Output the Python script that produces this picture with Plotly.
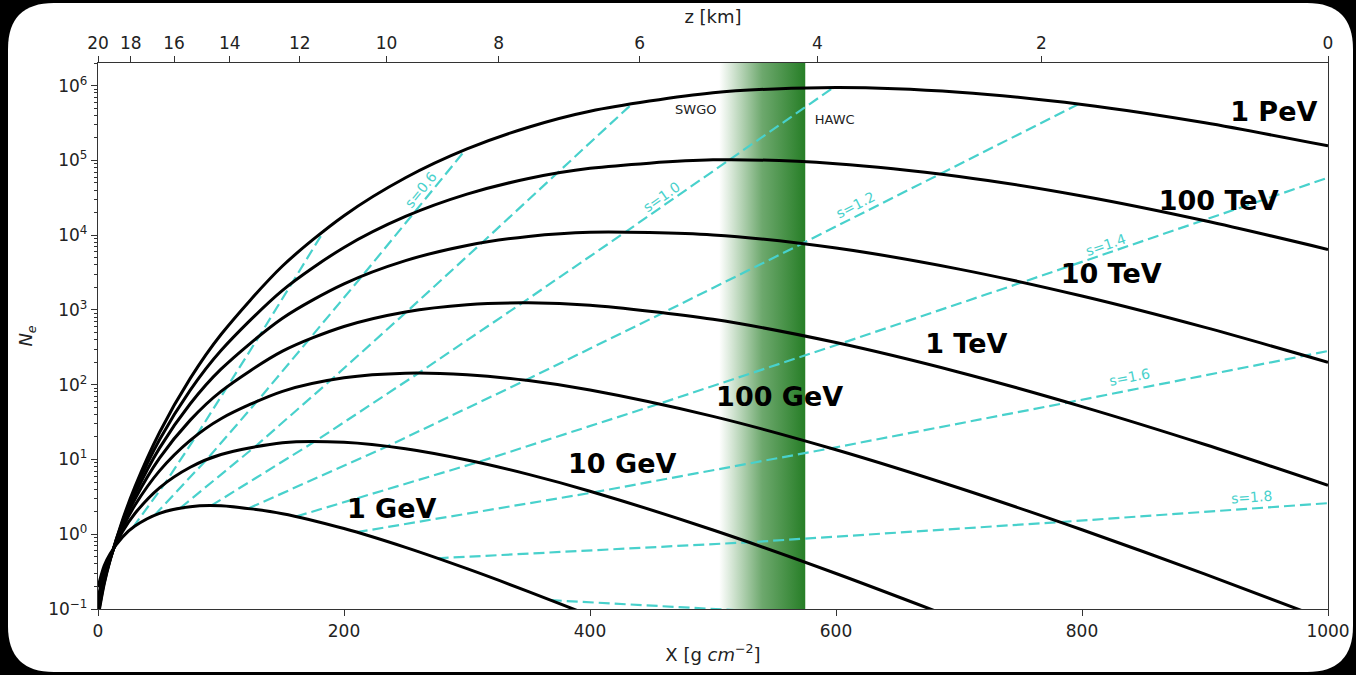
import math
import plotly.graph_objects as go

# ---------------- data ----------------
X_grid = [0, 5, 10, 20, 30, 50, 75, 100, 150, 200, 250, 300, 350, 400, 500, 600, 700, 800, 900, 1000]

energies = ["1 GeV", "10 GeV", "100 GeV", "1 TeV", "10 TeV", "100 TeV", "1 PeV"]

N_1GeV = [0.196, 0.378, 0.553, 0.921, 1.286, 1.906, 2.339, 2.397, 1.886, 1.192, 0.667, 0.346, 0.171,
          0.0816, 0.0173, None, None, None, None, None]
N_10GeV = [0.141, 0.311, 0.516, 1.090, 1.896, 4.181, 7.885, 11.67, 16.79, 16.99, 13.90, 9.829, 6.32,
           3.764, 1.139, 0.2986, 0.0712, None, None, None]
N_100GeV = [0.116, 0.276, 0.497, 1.217, 2.442, 7.044, 18.02, 35.11, 81.70, 123.9, 143.0, 136.1, 113.6,
            85.06, 37.76, 13.50, 4.155, 1.148, 0.2928, 0.0702]
N_1TeV = [0.101, 0.254, 0.483, 1.321, 2.944, 10.40, 33.63, 81.54, 281.3, 601.6, 941.4, 1178, 1247,
          1155, 750.5, 366.7, 147.2, 51.05, 15.86, 4.518]
N_10TeV = [0.0905, 0.238, 0.473, 1.409, 3.420, 14.19, 55.59, 161.4, 776.2, 2236, 4571, 7299, 9643,
           10980, 10110, 6741, 3522, 1538, 584.8, 199.7]
N_100TeV = [0.0828, 0.225, 0.465, 1.489, 3.873, 18.37, 84.72, 286.8, 1834, 6864, 17820, 35430, 57340,
            78520, 101900, 90630, 61210, 33540, 15620, 6460]
N_1PeV = [0.0767, 0.215, 0.457, 1.560, 4.305, 22.96, 121.6, 469.9, 3873, 18260, 58750, 142900, 278600,
          456000, 807000, 948000, 820000, 561000, 319000, 156700]

curves = [N_1GeV, N_10GeV, N_100GeV, N_1TeV, N_10TeV, N_100TeV, N_1PeV]

# energy label positions (X, N)
label_X = [238.8, 426.2, 554.2, 705.9, 823.7, 911.1, 955.9]
label_N = [2.046, 8.204, 63.68, 331.1, 2818, 27160, 409300]

# lines of constant shower age s
s_values = [0.4, 0.6, 0.8, 1.0, 1.2, 1.4, 1.6, 1.8, 2.0]
s_X = [
    [28.3, 54.3, 80.2, 106.2, 132.1, 158.0, 184.0],
    [46.0, 88.2, 130.3, 172.5, 214.7, 256.8, 299.0],
    [66.9, 128.3, 189.6, 250.9, 312.2, 373.6, 434.9],
    [92.0, 176.4, 260.7, 345.0, 429.3, 513.6, 598.0],
    [122.7, 235.2, 347.6, 460.0, 572.5, 684.8, 797.3],
    [161.0, 308.6, 456.2, 603.7, 751.3, 898.9, 1046.4],
    [210.3, 403.1, 595.9, 788.6, 981.3, 1174.0],
    [276.1, 529.1, 782.1, 1035.0],
    [368.1, 705.5],
]
s_N = [
    [1.227, 4.766, 21.09, 98.5, 475, 2335, 11640],
    [1.80, 9.93, 62.45, 414.4, 2840, 19830, 140500],
    [2.243, 15.15, 116.5, 946, 7932, 67720, 587000],
    [2.415, 17.44, 143.5, 1247, 11180, 102100, 947300],
    [2.232, 15.0, 114.9, 928, 7745, 65830, 568000],
    [1.727, 9.18, 55.6, 355.2, 2344, 15760, 107500],
    [1.065, 3.634, 14.12, 57.94, 245.4, 1060],
    [0.4773, 0.7804, 1.455, 2.861],
    [0.1312, 0.0657],
]
# labelled age lines: text, X, N, angle
s_label_text = ["s=0.6", "s=1.0", "s=1.2", "s=1.4", "s=1.6", "s=1.8"]
s_label_X = [262.1, 458.1, 615.8, 819.0, 839.0, 938.2]
s_label_N = [40550, 32360, 25000, 7447, 126.2, 3.126]
s_label_angle = [-51, -35, -27, -19, -11, -4]

# detector altitudes band (X) and labels
band_X = [505, 575]
site_names = ["SWGO", "HAWC"]
site_X = [486.0, 598.9]
site_N = [456000, 345100]

# top axis: altitude z
z_labels = ["20", "18", "16", "14", "12", "10", "8", "6", "4", "2", "0"]
z_tick_X = [0, 26.6, 61.8, 107.1, 164.0, 234.5, 325.8, 440.4, 584.9, 767.0, 1000]

x_ticks = [0, 200, 400, 600, 800, 1000]
y_tick_exp = [-1, 0, 1, 2, 3, 4, 5, 6]
y_log_range = [-1, 6.304]

# ---------------- figure ----------------
FONT = "DejaVu Sans"
CYAN = "#48D1CC"
fig = go.Figure()

y_lo, y_hi = 10 ** y_log_range[0], 10 ** y_log_range[1]
fig.add_trace(go.Scatter(
    x=[band_X[0], band_X[1], band_X[1], band_X[0], band_X[0]],
    y=[y_lo, y_lo, y_hi, y_hi, y_lo],
    mode="lines", line=dict(width=0), fill="toself",
    fillgradient=dict(type="horizontal",
                      colorscale=[[0, "rgba(20,115,20,0)"], [0.15, "rgba(20,115,20,0.18)"],
                                  [0.5, "rgba(20,115,20,0.62)"], [1, "rgba(20,115,20,0.92)"]]),
    hoverinfo="skip", showlegend=False))

for xs, ns in zip(s_X, s_N):
    fig.add_trace(go.Scatter(x=xs, y=ns, mode="lines",
                             line=dict(color=CYAN, width=2.2, dash="11px,5px"),
                             hoverinfo="skip", showlegend=False))

for name, ns in zip(energies, curves):
    fig.add_trace(go.Scatter(x=X_grid, y=ns, mode="lines", name=name,
                             line=dict(color="black", width=3, shape="spline", smoothing=0.8),
                             showlegend=False))

fig.add_trace(go.Scatter(x=label_X, y=label_N, mode="text",
                         text=["<b>%s</b>" % e for e in energies],
                         textfont=dict(family=FONT, size=27, color="black"),
                         hoverinfo="skip", showlegend=False))

fig.add_trace(go.Scatter(x=site_X, y=site_N, mode="text", text=site_names,
                         textfont=dict(family=FONT, size=13, color="#222"),
                         xaxis="x2", yaxis="y", hoverinfo="skip", showlegend=False))

annotations = []
for t, xv, nv, ang in zip(s_label_text, s_label_X, s_label_N, s_label_angle):
    annotations.append(dict(x=xv, y=math.log10(nv), xref="x", yref="y", text=t,
                            showarrow=False, textangle=ang,
                            font=dict(family=FONT, size=14, color=CYAN)))

# rounded white card on black background (pixel geometry -> paper units)
L, R, T, B, rad = 8, 1353, 3, 672, 46
pw, ph, ml, mb_top = 1230.0, 546.0, 98.0, 609.0
def px(xp):
    return (xp - ml) / pw
def py(yp):
    return (mb_top - yp) / ph
x0, x1, yt, yb = px(L), px(R), py(T), py(B)
rx, ry = rad / pw, rad / ph
card = (f"M {x0+rx},{yt} L {x1-rx},{yt} Q {x1},{yt} {x1},{yt-ry} "
        f"L {x1},{yb+ry} Q {x1},{yb} {x1-rx},{yb} L {x0+rx},{yb} Q {x0},{yb} {x0},{yb+ry} "
        f"L {x0},{yt-ry} Q {x0},{yt} {x0+rx},{yt} Z")

axis_common = dict(showgrid=False, zeroline=False, linecolor="#333", linewidth=1.3,
                   ticks="outside", ticklen=6, tickwidth=1.2, tickcolor="#333",
                   tickfont=dict(family=FONT, size=17, color="#222"), automargin=False)

fig.update_layout(
    width=1356, height=675,
    margin=dict(l=98, r=28, t=63, b=66),
    paper_bgcolor="black", plot_bgcolor="white",
    showlegend=False,
    font=dict(family=FONT, color="#222"),
    shapes=[dict(type="path", path=card, xref="paper", yref="paper",
                 fillcolor="white", line=dict(width=0), layer="below")],
    annotations=annotations,
    xaxis=dict(range=[0, 1000], tickvals=x_ticks, mirror=True,
               title=dict(text="X [g <i>cm</i><sup>−2</sup>]", font=dict(size=18), standoff=8),
               **axis_common),
    xaxis2=dict(range=[0, 1000], overlaying="x", side="top", tickvals=z_tick_X, ticktext=z_labels,
                title=dict(text="z [km]", font=dict(size=18), standoff=4),
                **axis_common),
    yaxis=dict(type="log", range=y_log_range, mirror=True,
               tickvals=[10 ** e for e in y_tick_exp],
               ticktext=["10<sup>%s</sup>" % (str(e).replace("-", "−")) for e in y_tick_exp],
               minor=dict(ticks="outside", ticklen=3, tickcolor="#333", dtick="D1", showgrid=False),
               title=dict(text="<i>N<sub>e</sub></i>", font=dict(size=18), standoff=10),
               **axis_common),
)

fig.write_html("out.html", config={"displayModeBar": False},
               post_script="document.body.style.margin='0px';document.body.style.background='black';")
